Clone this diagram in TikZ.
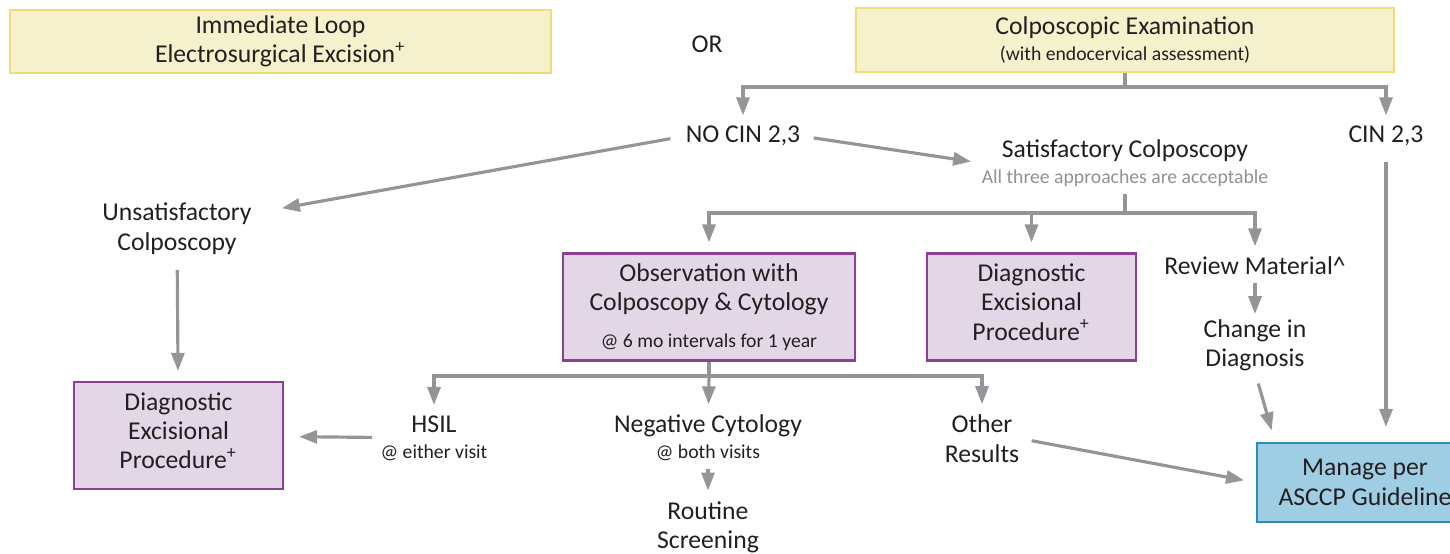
\documentclass[tikz,border=0pt]{standalone}
\usepackage{fontspec}
\setmainfont{Carlito}
\usetikzlibrary{arrows.meta}

\definecolor{boxyellow}{HTML}{F6F1CD}
\definecolor{boxyellowline}{HTML}{EEDC78}
\definecolor{boxpurple}{HTML}{E3D6E6}
\definecolor{boxpurpleline}{HTML}{8C3F96}
\definecolor{boxblue}{HTML}{9FCEE4}
\definecolor{boxblueline}{HTML}{2B8BBB}
\definecolor{flowgray}{HTML}{939598}
\definecolor{notegray}{HTML}{8F9194}
\definecolor{textdark}{HTML}{231F20}

\newcommand\mainsize{\fontsize{7.3}{8.35}\selectfont}
\newcommand\notesize{\fontsize{5.6}{7}\selectfont}

\tikzset{
  txt/.style={align=center,inner sep=0pt,font=\mainsize,text=textdark},
  yellowbox/.style={txt,draw=boxyellowline,fill=boxyellow,line width=0.6pt},
  purplebox/.style={txt,draw=boxpurpleline,fill=boxpurple,line width=0.6pt,minimum width=2.09cm,minimum height=1.07cm},
  bluebox/.style={txt,draw=boxblueline,fill=boxblue,line width=0.6pt},
  line/.style={draw=flowgray,line width=0.9pt},
  flow/.style={line,-{Triangle[length=0.18cm,width=0.13cm]},shorten >=0.1cm},
}

\begin{document}
\begin{tikzpicture}[x=0.01cm,y=-0.01cm]
  \useasboundingbox (0,0) rectangle (1450,553);

  \node[yellowbox,minimum width=5.41cm,minimum height=0.63cm] (loop) at (280.5,41.5) {Immediate Loop\\Electrosurgical Excision\textsuperscript{+}};
  \node[txt] (orword) at (707,44) {OR};
  \node[yellowbox,minimum width=5.38cm,minimum height=0.64cm] (colpo) at (1125,40) {Colposcopic Examination\\[-1pt]{\notesize (with endocervical assessment)}};

  \node[txt] (nocin) at (743,136) {NO CIN 2,3};
  \node[txt] (cin) at (1386,136) {CIN 2,3};
  \node[txt] (satis) at (1125,163) {Satisfactory Colposcopy\\[-1pt]{\notesize\color{notegray}All three approaches are acceptable}};
  \node[txt] (unsatis) at (177,228.5) {Unsatisfactory\\Colposcopy};

  \node[purplebox,minimum width=2.92cm] (observe) at (709,307) {Observation with\\Colposcopy \& Cytology\\[2pt]{\notesize @ 6 mo intervals for 1 year}};
  \node[purplebox] (diagmid) at (1031.5,307) {Diagnostic\\Excisional\\Procedure\textsuperscript{+}\\[-5.5pt]};
  \node[txt] (review) at (1255,266) {Review Material\textasciicircum};
  \node[txt] (change) at (1255,345.5) {Change in\\Diagnosis};

  \node[purplebox] (diagleft) at (178.5,435.5) {Diagnostic\\Excisional\\Procedure\textsuperscript{+}\\[-5.5pt]};
  \node[txt] (hsil) at (434,438) {HSIL\\[-1pt]{\notesize @ either visit}};
  \node[txt] (negcyto) at (708,438) {Negative Cytology\\[-1pt]{\notesize @ both visits}};
  \node[txt] (routine) at (708,527) {Routine\\Screening};
  \node[txt] (other) at (982,438.5) {Other\\Results};
  \node[bluebox,minimum width=2.16cm,minimum height=0.79cm] (manage) at (1365,482.5) {Manage per\\ASCCP Guideline};

  \coordinate (split1) at (1125,87);
  \coordinate (split2) at (1125,213);
  \coordinate (split3) at (709,376);

  % from the examination
  \draw[line] (colpo.south) -- (split1);
  \draw[flow] (split1) -| (nocin);
  \draw[flow] (split1) -| (cin);
  \draw[flow,shorten <=0.13cm] (nocin.east) -- (satis.west);
  \draw[flow,shorten <=0.15cm,shorten >=0.3cm] (nocin.west) -- ([yshift=0.15cm]unsatis.east);
  \draw[flow,shorten <=0.15cm,shorten >=0.15cm] (cin) -- (cin |- manage.north);

  % satisfactory colposcopy
  \draw[line,shorten <=0.07cm] (satis.south) -- (split2);
  \draw[flow] (split2) -| (observe);
  \draw[flow] (split2) -| (diagmid);
  \draw[flow] (split2) -| (review);
  \draw[flow,shorten <=0.07cm,shorten >=0.05cm] (review) -- (change);
  \draw[flow,shorten <=0.12cm,shorten >=0.12cm] (change.south) -- ([xshift=0.2cm]change.south |- manage.north);

  % unsatisfactory colposcopy
  \draw[flow,shorten <=0.15cm] (unsatis) -- (diagleft);

  % observation results
  \draw[line] (observe.south) -- (split3);
  \draw[flow] (split3) -| (hsil);
  \draw[flow] (split3) -- (negcyto);
  \draw[flow] (split3) -| (other);
  \draw[flow,shorten <=0.08cm,shorten >=0.15cm] (hsil) -- (diagleft);
  \draw[flow,shorten <=0.07cm] (negcyto) -- (routine);
  \draw[flow,shorten <=0.12cm,shorten >=0.12cm] (other.east) -- (manage.west);
\end{tikzpicture}
\end{document}
